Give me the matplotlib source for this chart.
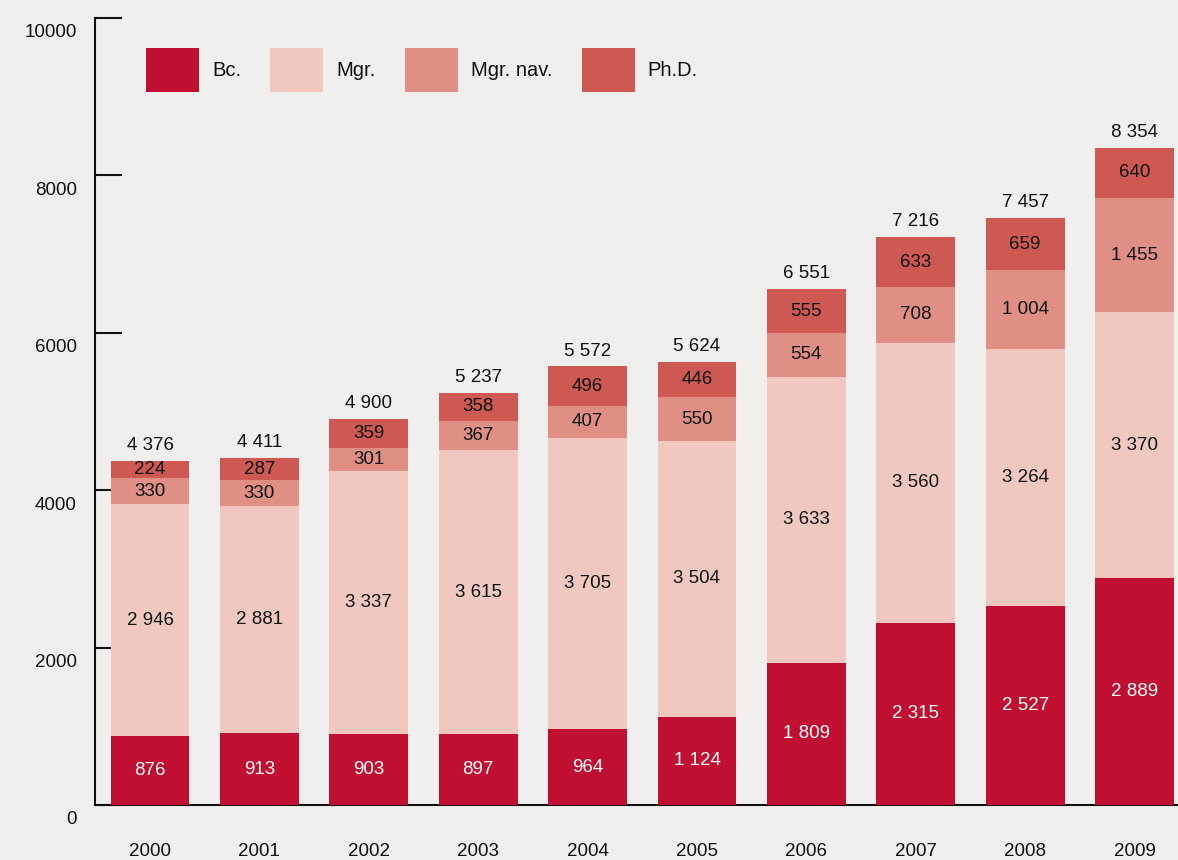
import matplotlib
matplotlib.use("Agg")
import matplotlib.pyplot as plt
from matplotlib.transforms import ScaledTranslation
import numpy as np

years = ["2000", "2001", "2002", "2003", "2004", "2005", "2006", "2007", "2008", "2009"]
bc = [876, 913, 903, 897, 964, 1124, 1809, 2315, 2527, 2889]
mgr = [2946, 2881, 3337, 3615, 3705, 3504, 3633, 3560, 3264, 3370]
mgr_nav = [330, 330, 301, 367, 407, 550, 554, 708, 1004, 1455]
phd = [224, 287, 359, 358, 496, 446, 555, 633, 659, 640]
totals = [4376, 4411, 4900, 5237, 5572, 5624, 6551, 7216, 7457, 8354]
series_names = ["Bc.", "Mgr.", "Mgr. nav.", "Ph.D."]
yticks = [0, 2000, 4000, 6000, 8000, 10000]

colors = ["#c00f30", "#f0c8c0", "#e08f84", "#ce5953"]
label_colors = ["white", "#111111", "#111111", "#111111"]
bg = "#f0efed"
txt = "#111111"

plt.rcParams['font.family'] = ['Liberation Sans', 'DejaVu Sans']
FS = 13.5
LFS = 14.5

def fmt(v):
    return f"{v:,}".replace(",", " ")

fig = plt.figure(figsize=(11.78, 8.6), dpi=100, facecolor=bg)
W, H = 1178, 860
ax = fig.add_axes([95 / W, 1 - 805 / H, (W - 95) / W, (805 - 18) / H])
ax.set_facecolor(bg)

x = np.arange(len(years))
bottom = np.zeros(len(years))
data = [bc, mgr, mgr_nav, phd]
for vals, col, lc, name in zip(data, colors, label_colors, series_names):
    vals = np.array(vals, dtype=float)
    ax.bar(x, vals, bottom=bottom, width=0.72, color=col, label=name, zorder=3)
    for xi, b, v in zip(x, bottom, vals):
        ax.text(xi, b + v / 2, fmt(int(v)), ha="center", va="center",
                color=lc, fontsize=FS, zorder=4)
    bottom = bottom + vals

for xi, top, t in zip(x, bottom, totals):
    ax.annotate(fmt(t), (xi, top), xytext=(0, 5), textcoords="offset points",
                ha="center", va="bottom", fontsize=FS, color=txt)

ax.set_xlim(-0.503, 9.397)
ax.set_ylim(0, 10000)
ax.spines["top"].set_visible(False)
ax.spines["right"].set_visible(False)
for s in ["left", "bottom"]:
    ax.spines[s].set_linewidth(1.5)
    ax.spines[s].set_color("#111111")

ax.set_xticks(x)
ax.set_xticklabels(years, fontsize=FS, color=txt)
ax.tick_params(axis="x", length=0, pad=27)

ax.set_yticks(yticks)
ax.set_yticklabels([str(v) for v in yticks], fontsize=FS, color=txt)
ax.tick_params(axis="y", direction="in", length=19.5, width=1.5, color="#111111", pad=13)
off = ScaledTranslation(0, -13 / 100, fig.dpi_scale_trans)
for lab in ax.get_yticklabels():
    lab.set_transform(lab.get_transform() + off)

leg = ax.legend(loc="upper left", bbox_to_anchor=(146 / W, 1 - 48 / H),
                bbox_transform=fig.transFigure, ncol=4, frameon=False,
                fontsize=LFS, handlelength=2.63, handleheight=2.98,
                handletextpad=0.65, columnspacing=1.45, borderpad=0, borderaxespad=0)
for t in leg.get_texts():
    t.set_color(txt)

fig.savefig("out.png", dpi=100, facecolor=bg)
